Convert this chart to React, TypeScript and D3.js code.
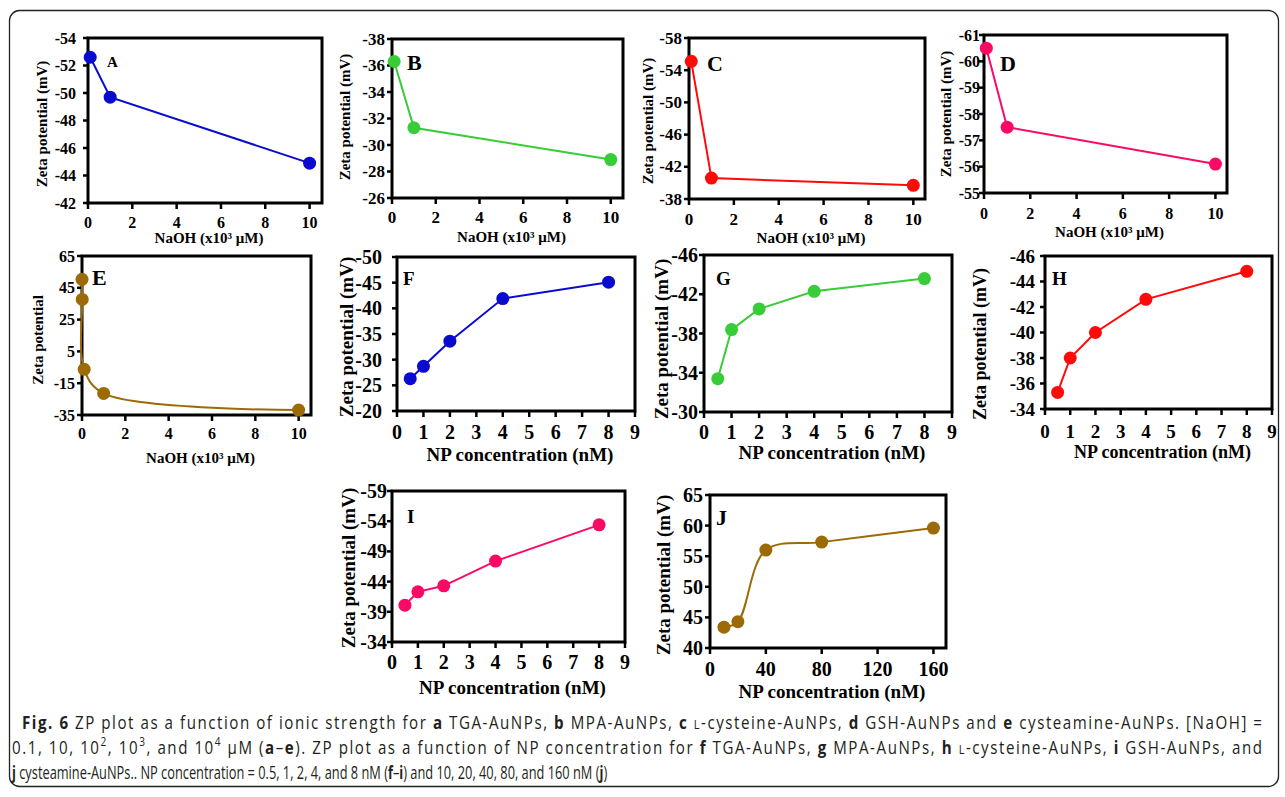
import React, { useLayoutEffect, useRef, useState } from 'react';
import * as d3 from 'd3';

// ---------- data ----------
const naohX = [0.1, 1, 10];
const zetaA = [-52.6, -49.7, -44.9];
const zetaB = [-36.3, -31.3, -28.9];
const zetaC = [-55.1, -40.6, -39.7];
const zetaD = [-60.5, -57.5, -56.1];
const naohXE = [0.0001, 0.01, 0.1, 1, 10];
const zetaE = [50.3, 37.7, -6.3, -21.4, -31.9];
const npX = [0.5, 1, 2, 4, 8];
const zetaF = [-26.3, -28.7, -33.6, -41.9, -45.1];
const zetaG = [-33.4, -38.4, -40.5, -42.3, -43.6];
const zetaH = [-35.3, -38.0, -40.0, -42.6, -44.8];
const zetaI = [-40.1, -42.3, -43.3, -47.4, -53.4];
const npXJ = [10, 20, 40, 80, 160];
const zetaJ = [43.4, 44.3, 56.0, 57.3, 59.6];

const naohTicks = [0, 2, 4, 6, 8, 10];
const npTicks = [0, 1, 2, 3, 4, 5, 6, 7, 8, 9];
const npTicksJ = [0, 40, 80, 120, 160];
// y ticks listed top-to-bottom
const yTicksA = [-54, -52, -50, -48, -46, -44, -42];
const yTicksB = [-38, -36, -34, -32, -30, -28, -26];
const yTicksC = [-58, -54, -50, -46, -42, -38];
const yTicksD = [-61, -60, -59, -58, -57, -56, -55];
const yTicksE = [65, 45, 25, 5, -15, -35];
const yTicksF = [-50, -45, -40, -35, -30, -25, -20];
const yTicksG = [-46, -42, -38, -34, -30];
const yTicksH = [-46, -44, -42, -40, -38, -36, -34];
const yTicksI = [-59, -54, -49, -44, -39, -34];
const yTicksJ = [65, 60, 55, 50, 45, 40];

const naohLabel = 'NaOH (x10³ μM)';
const npLabel = 'NP concentration (nM)';
const zetaLabel = 'Zeta potential (mV)';
const zetaLabelE = 'Zeta potential';

// ---------- styles / layout ----------
const BLUE = '#0b0bcf';
const GREEN = '#38cc38';
const RED = '#ff0a0a';
const PINK = '#fa0a64';
const BROWN = '#9c6a06';
const SERIF = '"Liberation Serif", "Times New Roman", serif';

type PanelCfg = {
  letter: string;
  xs: number[];
  ys: number[];
  xTicks: number[];
  yTicks: number[];
  xMax: number;
  color: string;
  smooth: boolean;
  xTitle: string;
  yTitle: string;
  box: [number, number, number, number];
  yTitleX: number;
  yTitleCy: number;
  xTickY: number;
  xTitleY: number;
  yTickRight: number;
  letterPos: [number, number];
  tickFs: number;
  titleFs: number;
  letterFs: number;
};

const panels: PanelCfg[] = [
  { letter: 'A', xs: naohX, ys: zetaA, xTicks: naohTicks, yTicks: yTicksA, xMax: 10.56, color: BLUE, smooth: false,
    xTitle: naohLabel, yTitle: zetaLabel, box: [88, 38, 322, 203], yTitleX: 42, yTitleCy: 124, xTickY: 222, xTitleY: 238,
    yTickRight: 76, letterPos: [107, 67], tickFs: 16, titleFs: 15, letterFs: 15 },
  { letter: 'B', xs: naohX, ys: zetaB, xTicks: naohTicks, yTicks: yTicksB, xMax: 10.56, color: GREEN, smooth: false,
    xTitle: naohLabel, yTitle: zetaLabel, box: [392, 39, 623, 198], yTitleX: 345, yTitleCy: 117, xTickY: 217, xTitleY: 237,
    yTickRight: 385, letterPos: [407, 70], tickFs: 17, titleFs: 15, letterFs: 22 },
  { letter: 'C', xs: naohX, ys: zetaC, xTicks: naohTicks, yTicks: yTicksC, xMax: 10.52, color: RED, smooth: false,
    xTitle: naohLabel, yTitle: zetaLabel, box: [689, 38, 925, 199], yTitleX: 648, yTitleCy: 121, xTickY: 219, xTitleY: 238,
    yTickRight: 682, letterPos: [707, 71], tickFs: 17, titleFs: 15, letterFs: 22 },
  { letter: 'D', xs: naohX, ys: zetaD, xTicks: naohTicks, yTicks: yTicksD, xMax: 10.5, color: PINK, smooth: false,
    xTitle: naohLabel, yTitle: zetaLabel, box: [984, 35, 1227, 193], yTitleX: 946, yTitleCy: 114, xTickY: 213, xTitleY: 232,
    yTickRight: 980, letterPos: [1000, 71], tickFs: 16, titleFs: 15, letterFs: 22 },
  { letter: 'E', xs: naohXE, ys: zetaE, xTicks: naohTicks, yTicks: yTicksE, xMax: 10.57, color: BROWN, smooth: true,
    xTitle: naohLabel, yTitle: zetaLabelE, box: [82, 256, 311, 415], yTitleX: 38, yTitleCy: 340, xTickY: 433, xTitleY: 458,
    yTickRight: 75, letterPos: [92, 285], tickFs: 16, titleFs: 15, letterFs: 22 },
  { letter: 'F', xs: npX, ys: zetaF, xTicks: npTicks, yTicks: yTicksF, xMax: 9, color: BLUE, smooth: false,
    xTitle: npLabel, yTitle: zetaLabel, box: [397, 257, 635, 411], yTitleX: 346, yTitleCy: 337, xTickY: 432, xTitleY: 454,
    yTickRight: 382, letterPos: [403, 285], tickFs: 20, titleFs: 19, letterFs: 19 },
  { letter: 'G', xs: npX, ys: zetaG, xTicks: npTicks, yTicks: yTicksG, xMax: 9, color: GREEN, smooth: false,
    xTitle: npLabel, yTitle: zetaLabel, box: [704, 255, 952, 412], yTitleX: 661, yTitleCy: 339, xTickY: 432, xTitleY: 452,
    yTickRight: 698, letterPos: [716, 285], tickFs: 20, titleFs: 19, letterFs: 19 },
  { letter: 'H', xs: npX, ys: zetaH, xTicks: npTicks, yTicks: yTicksH, xMax: 9, color: RED, smooth: false,
    xTitle: npLabel, yTitle: zetaLabel, box: [1045, 256, 1272, 409], yTitleX: 980, yTitleCy: 344, xTickY: 431, xTitleY: 452,
    yTickRight: 1035, letterPos: [1052, 285], tickFs: 19, titleFs: 18, letterFs: 19 },
  { letter: 'I', xs: npX, ys: zetaI, xTicks: npTicks, yTicks: yTicksI, xMax: 9, color: PINK, smooth: false,
    xTitle: npLabel, yTitle: zetaLabel, box: [392, 491, 625, 642], yTitleX: 348, yTitleCy: 568, xTickY: 662, xTitleY: 687,
    yTickRight: 387, letterPos: [407, 523], tickFs: 20, titleFs: 19, letterFs: 19 },
  { letter: 'J', xs: npXJ, ys: zetaJ, xTicks: npTicksJ, yTicks: yTicksJ, xMax: 169, color: BROWN, smooth: true,
    xTitle: npLabel, yTitle: zetaLabel, box: [710, 495, 946, 648], yTitleX: 663, yTitleCy: 575, xTickY: 669, xTitleY: 691,
    yTickRight: 703, letterPos: [716, 525], tickFs: 20, titleFs: 19, letterFs: 22 },
];

function Panel({ p }: { p: PanelCfg }) {
  const [l, t, r, b] = p.box;
  const x = d3.scaleLinear().domain([0, p.xMax]).range([l, r]);
  const y = d3.scaleLinear().domain([p.yTicks[0], p.yTicks[p.yTicks.length - 1]]).range([t, b]);
  const pts: [number, number][] = p.xs.map((v, i) => [x(v), y(p.ys[i])]);
  const line = d3.line().curve(p.smooth ? d3.curveCatmullRom.alpha(0.5) : d3.curveLinear);
  const d = line(pts) || '';
  return (
    <g fontFamily={SERIF} fontWeight="bold" fill="#000">
      <rect x={l} y={t} width={r - l} height={b - t} fill="#fff" stroke="#000" strokeWidth={3} />
      {p.yTicks.map((v) => (
        <g key={'y' + v}>
          <line x1={l - 5} x2={l} y1={y(v)} y2={y(v)} stroke="#000" strokeWidth={2.5} />
          <text x={p.yTickRight} y={y(v)} textAnchor="end" dominantBaseline="central" fontSize={p.tickFs}>{v}</text>
        </g>
      ))}
      {p.xTicks.map((v) => (
        <g key={'x' + v}>
          <line x1={x(v)} x2={x(v)} y1={b} y2={b + 6} stroke="#000" strokeWidth={2.5} />
          <text x={x(v)} y={p.xTickY} textAnchor="middle" dominantBaseline="central" fontSize={p.tickFs}>{v}</text>
        </g>
      ))}
      <text x={(l + r) / 2 + 4} y={p.xTitleY} textAnchor="middle" dominantBaseline="central" fontSize={p.titleFs}>{p.xTitle}</text>
      <text transform={`translate(${p.yTitleX},${p.yTitleCy}) rotate(-90)`} textAnchor="middle" dominantBaseline="central" fontSize={p.titleFs}>{p.yTitle}</text>
      <path d={d} fill="none" stroke={p.color} strokeWidth={2} />
      {pts.map((q, i) => (
        <circle key={i} cx={q[0]} cy={q[1]} r={6.5} fill={p.color} />
      ))}
      <text x={p.letterPos[0]} y={p.letterPos[1]} fontSize={p.letterFs}>{p.letter}</text>
    </g>
  );
}

const CAP_FONT = '"Open Sans", "Noto Sans", sans-serif';
// caption line extents (left, right, baseline)
const capLines: [number, number, number][] = [
  [22, 1262, 729],
  [12, 1262, 754],
  [12, 607, 779],
];

function Caption() {
  const r3 = useRef<SVGTextElement>(null);
  const [sx, setSx] = useState(0.7);
  useLayoutEffect(() => {
    if (r3.current) {
      const len = r3.current.getComputedTextLength();
      if (len > 0) setSx((capLines[2][1] - capLines[2][0]) / len);
    }
  }, []);
  const wide = Math.min(1, sx * 1.18);
  const B = (s: string) => <tspan fontWeight="bold">{s}</tspan>;
  const SC = () => <tspan fontSize={13}>L</tspan>;
  const SUP = (s: string) => <tspan fontSize={12} baselineShift="super">{s}</tspan>;
  const lines = [
    <>
      {B('Fig. 6')} ZP plot as a function of ionic strength for {B('a')} TGA-AuNPs, {B('b')} MPA-AuNPs, {B('c')} <SC />-cysteine-AuNPs, {B('d')} GSH-AuNPs and {B('e')} cysteamine-AuNPs. [NaOH] =
    </>,
    <>
      0.1, 10, 10{SUP('2')}, 10{SUP('3')}, and 10{SUP('4')} μM ({B('a')}–{B('e')}). ZP plot as a function of NP concentration for {B('f')} TGA-AuNPs, {B('g')} MPA-AuNPs, {B('h')} <SC />-cysteine-AuNPs, {B('i')} GSH-AuNPs, and
    </>,
    <>
      {B('j')} cysteamine-AuNPs.. NP concentration = 0.5, 1, 2, 4, and 8 nM ({B('f')}–{B('i')}) and 10, 20, 40, 80, and 160 nM ({B('j')})
    </>,
  ];
  return (
    <g fontFamily={CAP_FONT} fontSize={18} fill="#231f20">
      {lines.map((content, i) => {
        const s = i === 2 ? sx : wide;
        const w = capLines[i][1] - capLines[i][0];
        return (
          <g key={i} transform={`translate(${capLines[i][0]},${capLines[i][2]}) scale(${s},1)`}>
            {i === 2 ? (
              <text ref={r3} x={0} y={0}>{content}</text>
            ) : (
              <text x={0} y={0} textLength={w / s} lengthAdjust="spacing">{content}</text>
            )}
          </g>
        );
      })}
    </g>
  );
}

export default function App() {
  return (
    <svg width={1285} height={797} style={{ position: 'absolute', left: 0, top: 0, background: '#fff' }}>
      <rect x={0} y={0} width={1285} height={797} fill="#fff" />
      <rect x={9.5} y={10.5} width={1269} height={776} rx={10} ry={10} fill="none" stroke="#222" strokeWidth={1.3} />
      {panels.map((p) => (
        <Panel key={p.letter} p={p} />
      ))}
      <Caption />
    </svg>
  );
}
